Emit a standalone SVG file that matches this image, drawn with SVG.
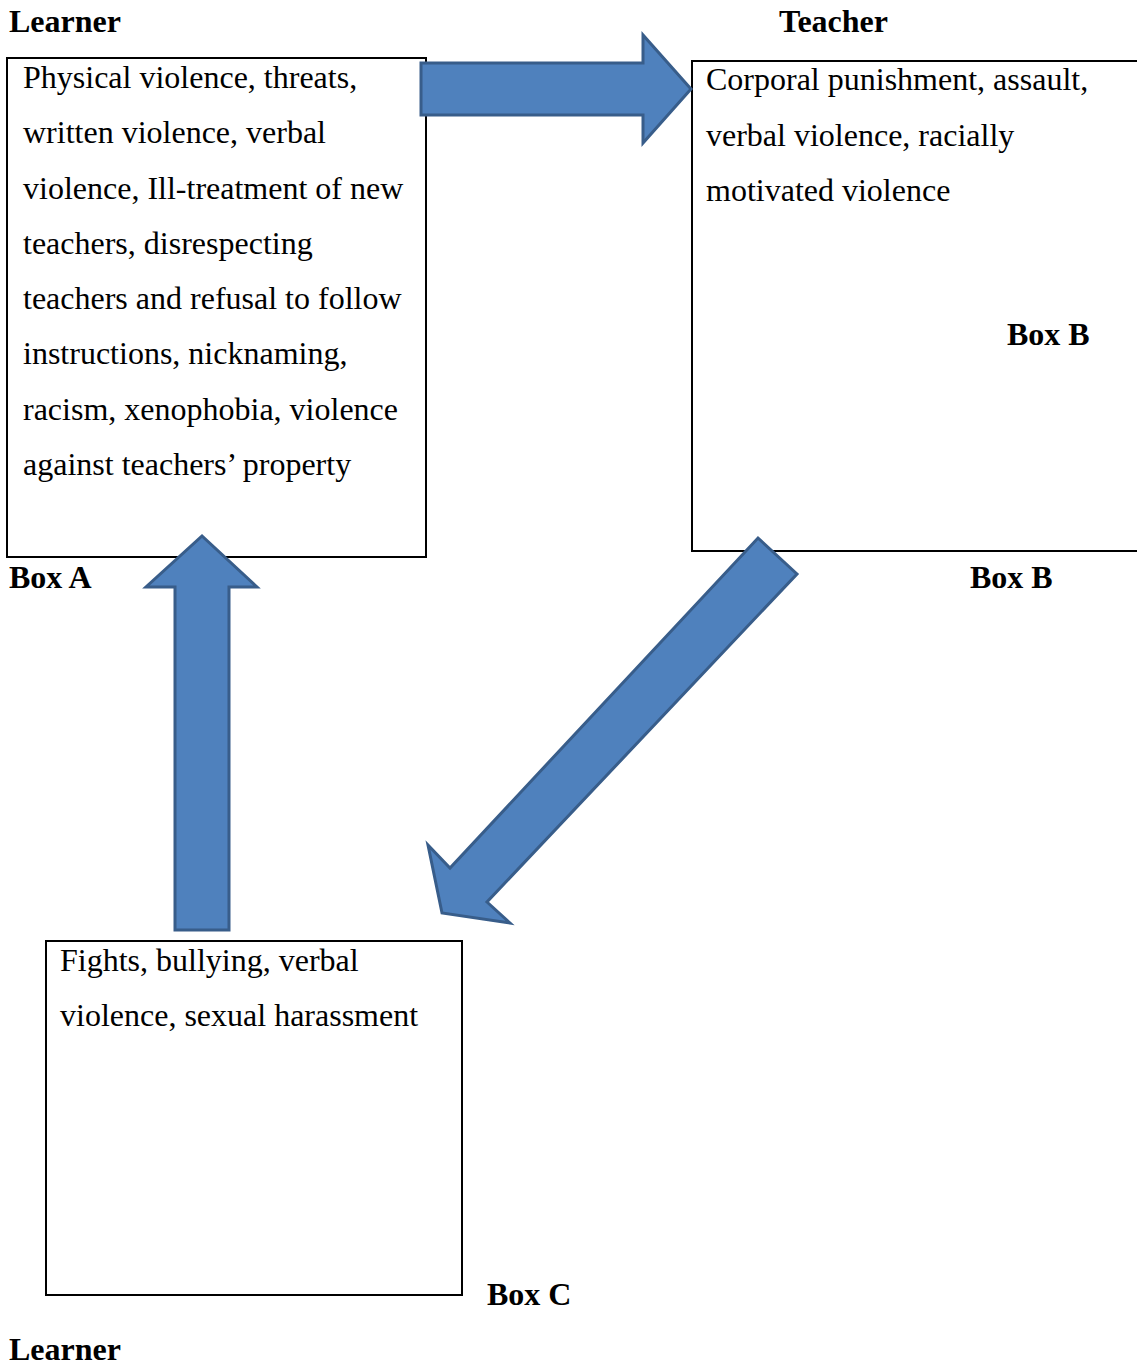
<svg xmlns="http://www.w3.org/2000/svg" width="1137" height="1365" viewBox="0 0 1137 1365">
<style>
.box{fill:#fff;stroke:#000;stroke-width:2}
.t{font-family:"Liberation Serif","Times New Roman",serif;font-size:32px;fill:#000}
.b{font-family:"Liberation Serif","Times New Roman",serif;font-size:32px;font-weight:bold;fill:#000}
.arr{fill:#4F81BD;stroke:#385D8A;stroke-width:3;stroke-linejoin:miter}
</style>
<rect width="1137" height="1365" fill="#fff"/>
<g id="boxA">
<rect class="box" x="7" y="58" width="419" height="499"/>
<text class="t" x="23" y="88">Physical violence, threats,</text>
<text class="t" x="23" y="143">written violence, verbal</text>
<text class="t" x="23" y="199">violence, Ill-treatment of new</text>
<text class="t" x="23" y="254">teachers, disrespecting</text>
<text class="t" x="23" y="309">teachers and refusal to follow</text>
<text class="t" x="23" y="364">instructions, nicknaming,</text>
<text class="t" x="23" y="420">racism, xenophobia, violence</text>
<text class="t" x="23" y="475">against teachers’ property</text>
</g>
<g id="boxB">
<rect class="box" x="692" y="61" width="450" height="490"/>
<text class="t" x="706" y="90">Corporal punishment, assault,</text>
<text class="t" x="706" y="146">verbal violence, racially</text>
<text class="t" x="706" y="201">motivated violence</text>
<text class="b" x="1007" y="345">Box B</text>
</g>
<g id="boxC">
<rect class="box" x="46" y="941" width="416" height="354"/>
<text class="t" x="60" y="971">Fights, bullying, verbal</text>
<text class="t" x="60" y="1026">violence, sexual harassment</text>
</g>
<g id="labels">
<text class="b" x="9" y="32">Learner</text>
<text class="b" x="779" y="32">Teacher</text>
<text class="b" x="9" y="588">Box A</text>
<text class="b" x="970" y="588">Box B</text>
<text class="b" x="487" y="1305">Box C</text>
<text class="b" x="9" y="1360">Learner</text>
</g>
<g id="connectors">
<polygon class="arr" points="421,63 643,63 643,35 691,89 643,143 643,115 421,115"/>
<polygon class="arr" points="175,930 175,587 146,587 202,536 257,587 229,587 229,930"/>
<polygon class="arr" points="758,538 797,574 487,902 510,923 442,913 428,845 450,868"/>
</g>
</svg>
